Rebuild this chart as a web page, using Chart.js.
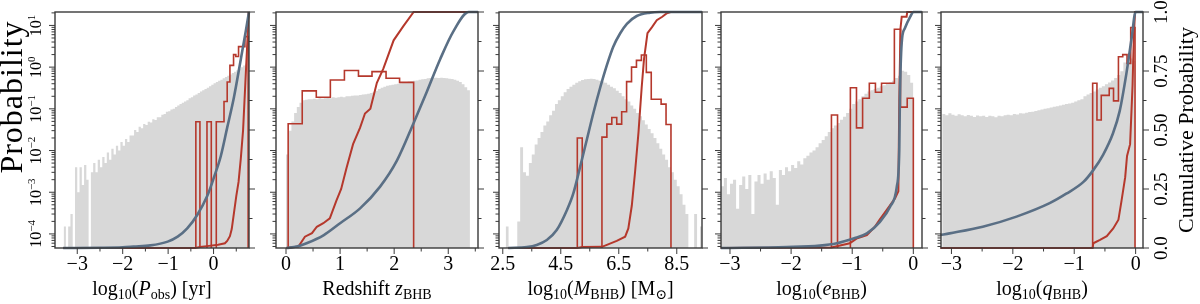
<!DOCTYPE html>
<html>
<head>
<meta charset="utf-8">
<script src="https://cdn.jsdelivr.net/npm/chart.js@4.4.1/dist/chart.umd.min.js"></script>
<style>
  html, body { margin: 0; padding: 0; background: #fff; }
  #wrap { position: relative; width: 1200px; height: 304px; overflow: hidden; font-family: 'Liberation Serif', 'DejaVu Serif', serif; color: #000; }
  canvas { position: absolute; top: 0; }
  .xt { position: absolute; top: 276px; font-size: 20px; line-height: 24px; text-align: center; white-space: nowrap; }
  .xt sub { font-size: 0.7em; vertical-align: -0.32em; line-height: 0; }
  .yt { position: absolute; white-space: nowrap; text-align: center; transform: rotate(-90deg); }
</style>
</head>
<body>
<div id="wrap">
  <canvas id="c1"></canvas>
  <canvas id="c2"></canvas>
  <canvas id="c3"></canvas>
  <canvas id="c4"></canvas>
  <canvas id="c5"></canvas>
  <div class="xt" style="left:55px;width:194px">log<sub>10</sub>(<i>P</i><sub>obs</sub>) [yr]</div>
  <div class="xt" style="left:276px;width:202px">Redshift <i>z</i><sub>BHB</sub></div>
  <div class="xt" style="left:499px;width:203px">log<sub>10</sub>(<i>M</i><sub>BHB</sub>) [M<sub>⊙</sub>]</div>
  <div class="xt" style="left:721px;width:201px">log<sub>10</sub>(<i>e</i><sub>BHB</sub>)</div>
  <div class="xt" style="left:941px;width:202px">log<sub>10</sub>(<i>q</i><sub>BHB</sub>)</div>
  <div class="yt" style="left:-109px;top:81px;width:240px;height:32px;line-height:32px;font-size:32px;letter-spacing:1px;">Probability</div>
  <div class="yt" style="left:1066px;top:117px;width:240px;height:26px;line-height:26px;font-size:22px;">Cumulative Probability</div>
</div>
<script>
// valeurs vides -> sous l'axe log
const FLOOR = 1e-7;

// axes communs
const logTicks = [1e-4, 1e-3, 1e-2, 1e-1, 1, 10];
const logTickExp = ['−4', '−3', '−2', '−1', '0', '1'];
const cumTicks = [0, 0.25, 0.5, 0.75, 1];
const cumTickLabels = ['0.0', '0.25', '0.50', '0.75', '1.0'];
const cumMinor = [0.125, 0.375, 0.625, 0.875];

// ---- panneau 1 : log10(P_obs) ----
const p1GreyStart = -3.3, p1GreyWidth = 0.05;
const p1Grey = [
  1.5e-4, 0, 1.5e-4, 3e-4, 0, 4e-3, 1e-3, 4e-3, 1.5e-3, 4.5e-3,
  2e-3, 0, 3e-3, 5e-3, 3e-3, 6e-3, 4e-3, 7e-3, 5e-3, 9e-3,
  6e-3, 1.1e-2, 8e-3, 1.3e-2, 1.0e-2, 1.6e-2, 1.3e-2, 1.9e-2, 1.6e-2, 2.3e-2,
  2.3e-2, 3.1e-2, 2.8e-2, 3.7e-2, 3.4e-2, 4.3e-2, 4.1e-2, 4.9e-2, 4.7e-2, 5.6e-2,
  5.4e-2, 6.3e-2, 6.3e-2, 7.2e-2, 7.5e-2, 8.5e-2, 8.8e-2, 9.6e-2, 0.1, 0.11,
  0.12, 0.13, 0.14, 0.15, 0.16, 0.18, 0.19, 0.21, 0.22, 0.24,
  0.26, 0.28, 0.3, 0.32, 0.35, 0.38, 0.41, 0.44, 0.47, 0.5,
  0.54, 0.58, 0.62, 0.67, 0.72, 0.78, 0.84, 0.92, 1.0, 1.1,
  1.2
];
const p1RedEdges = [-0.39, -0.30, -0.145, -0.05, 0.06, 0.23, 0.30, 0.36, 0.44, 0.49, 0.55, 0.69, 0.76];
const p1RedVals = [0.049, 0, 0.049, 0, 0.049, 0.15, 0.44, 1.1, 2.0, 1.8, 3.1, 5.4];
const p1RedCumX = [-3.31, -0.40, -0.30, -0.10, 0.10, 0.25, 0.30, 0.36, 0.40, 0.45, 0.50, 0.55, 0.60, 0.65, 0.70, 0.74, 0.77];
const p1RedCumY = [0, 0, 0.004, 0.009, 0.014, 0.02, 0.03, 0.05, 0.08, 0.15, 0.22, 0.28, 0.38, 0.50, 0.70, 0.86, 1.0];
const p1BlueCumX = [-3.31, -2.5, -2.0, -1.76, -1.39, -1.01, -0.79, -0.58, -0.36, -0.14, 0.01, 0.16, 0.30, 0.45, 0.60, 0.71, 0.78];
const p1BlueCumY = [0, 0.001, 0.003, 0.006, 0.011, 0.027, 0.048, 0.083, 0.14, 0.22, 0.30, 0.39, 0.51, 0.64, 0.80, 0.92, 1.0];
const p1XTicks = [-3, -2, -1, 0];
const p1XTickLabels = ['−3', '−2', '−1', '0'];
const p1XMinor = [-2.5, -1.5, -0.5, 0.5];

// ---- panneau 2 : redshift ----
const p2GreyStart = 0, p2GreyWidth = 0.05;
const p2Grey = [
  0.008, 0.03, 0.05, 0.08, 0.11, 0.14, 0.16, 0.165, 0.17, 0.17,
  0.175, 0.17, 0.18, 0.175, 0.18, 0.185, 0.18, 0.19, 0.185, 0.19,
  0.195, 0.19, 0.2, 0.2, 0.205, 0.21, 0.21, 0.215, 0.22, 0.225,
  0.23, 0.24, 0.25, 0.27, 0.3, 0.32, 0.34, 0.36, 0.37, 0.38,
  0.39, 0.4, 0.41, 0.42, 0.44, 0.45, 0.46, 0.47, 0.48, 0.5,
  0.51, 0.52, 0.54, 0.55, 0.56, 0.56, 0.55, 0.56, 0.55, 0.54,
  0.53, 0.52, 0.5, 0.47, 0.44, 0.39, 0.33, 0.28
];
const p2RedEdges = [0.04, 0.30, 0.56, 0.82, 1.08, 1.34, 1.59, 1.85, 2.10, 2.36];
const p2RedVals = [0.044, 0.27, 0.19, 0.49, 0.83, 0.61, 0.78, 0.54, 0.43];
const p2RedCumX = [0.01, 0.23, 0.35, 0.48, 0.57, 0.69, 0.81, 0.93, 1.02, 1.12, 1.24, 1.37, 1.46, 1.56, 1.68, 1.80, 1.99, 2.17, 2.36, 3.55];
const p2RedCumY = [0, 0.006, 0.048, 0.063, 0.09, 0.105, 0.126, 0.20, 0.25, 0.34, 0.44, 0.51, 0.57, 0.59, 0.70, 0.76, 0.88, 0.94, 1.0, 1.0];
const p2BlueCumX = [0.01, 0.2, 0.38, 0.7, 1.0, 1.37, 1.74, 2.05, 2.36, 2.6, 2.85, 3.10, 3.38, 3.55];
const p2BlueCumY = [0, 0.006, 0.02, 0.055, 0.105, 0.168, 0.26, 0.37, 0.53, 0.66, 0.80, 0.92, 1.0, 1.0];
const p2XTicks = [0, 1, 2, 3];
const p2XTickLabels = ['0', '1', '2', '3'];
const p2XMinor = [0.5, 1.5, 2.5, 3.5];

// ---- panneau 3 : log10(M_BHB) ----
const p3GreyStart = 2.6, p3GreyWidth = 0.1;
const p3Grey = [
  1.5e-4, 0, 0, 0, 2e-4, 1.2e-2, 3e-3, 2.5e-3, 5e-3, 8e-3,
  1.4e-2, 2e-2, 2.8e-2, 4e-2, 5e-2, 7e-2, 9e-2, 0.13, 0.16, 0.2,
  0.25, 0.3, 0.34, 0.38, 0.42, 0.46, 0.49, 0.51, 0.52, 0.53,
  0.52, 0.5, 0.47, 0.45, 0.42, 0.38, 0.34, 0.31, 0.27, 0.24,
  0.2, 0.17, 0.15, 0.12, 0.1, 0.08, 0.066, 0.053, 0.042, 0.033,
  0.026, 0.02, 0.015, 0.011, 8e-3, 6e-3, 4e-3, 3e-3, 2e-3, 1.4e-3,
  9e-4, 5e-4, 3e-4, 0, 0, 3e-4, 0, 1.5e-4
];
const p3RedEdges = [5.07, 5.24, 5.92, 6.09, 6.26, 6.43, 6.60, 6.77, 6.94, 7.11, 7.28, 7.45, 7.62, 7.79, 7.96, 8.13, 8.30];
const p3RedVals = [0.02, 0, 0.021, 0.043, 0.062, 0.043, 0.085, 0.45, 1.0, 1.45, 1.95, 0.75, 0.17, 0.17, 0.13, 0.042];
const p3RedCumX = [2.69, 5.07, 5.24, 5.92, 6.09, 6.43, 6.72, 6.83, 6.95, 7.06, 7.18, 7.29, 7.37, 7.49, 7.64, 7.81, 8.0, 8.16, 8.29, 9.37];
const p3RedCumY = [0, 0, 0.004, 0.005, 0.013, 0.03, 0.048, 0.083, 0.18, 0.32, 0.49, 0.68, 0.80, 0.91, 0.935, 0.965, 0.98, 0.995, 1.0, 1.0];
const p3BlueCumX = [2.69, 3.33, 3.67, 4.02, 4.36, 4.71, 4.93, 5.17, 5.40, 5.62, 5.86, 6.09, 6.31, 6.55, 6.78, 7.12, 7.58, 7.92, 9.37];
const p3BlueCumY = [0, 0.004, 0.013, 0.034, 0.076, 0.16, 0.23, 0.345, 0.46, 0.57, 0.68, 0.775, 0.853, 0.91, 0.95, 0.983, 0.997, 1.0, 1.0];
const p3XTicks = [2.5, 4.5, 6.5, 8.5];
const p3XTickLabels = ['2.5', '4.5', '6.5', '8.5'];
const p3XMinor = [3.5, 5.5, 7.5];

// ---- panneau 4 : log10(e_BHB) ----
const p4GreyStart = -3.15, p4GreyWidth = 0.05;
const p4Grey = [
  1.4e-3, 2.2e-3, 9e-4, 1.6e-3, 2.0e-3, 4e-4, 1.5e-3, 2.4e-3, 1.2e-3, 2.6e-3,
  3e-4, 1.8e-3, 2.6e-3, 1.6e-3, 2.8e-3, 2.0e-3, 3.2e-3, 2.2e-3, 5e-4, 3.4e-3,
  2.6e-3, 4.0e-3, 3.2e-3, 4.5e-3, 3.8e-3, 5.5e-3, 4.6e-3, 6.5e-3, 7.5e-3, 9e-3,
  1.0e-2, 1.2e-2, 1.5e-2, 1.8e-2, 2.2e-2, 2.8e-2, 3.4e-2, 4.0e-2, 4.6e-2, 5.5e-2,
  6.5e-2, 8e-2, 0.1, 0.13, 0.15, 0.17, 0.2, 0.23, 0.26, 0.28,
  0.3, 0.32, 0.35, 0.37, 0.4, 0.43, 0.47, 0.55, 0.62, 0.82,
  0.78, 0.65, 0.42
];
const p4RedEdges = [-1.34, -1.24, -1.03, -0.93, -0.83, -0.72, -0.62, -0.52, -0.31, -0.21, -0.10, 0.0];
const p4RedVals = [0.071, 0, 0.32, 0.035, 0.18, 0.41, 0.25, 0.41, 8.1, 0.11, 0.18];
const p4RedCumX = [-3.15, -1.34, -1.04, -0.93, -0.76, -0.63, -0.55, -0.44, -0.30, -0.245, -0.23, -0.21, -0.19, -0.11, -0.10, 0.14];
const p4RedCumY = [0, 0.002, 0.02, 0.04, 0.055, 0.09, 0.12, 0.16, 0.21, 0.24, 0.62, 0.93, 0.98, 0.98, 1.0, 1.0];
const p4BlueCumX = [-3.15, -2.07, -1.53, -1.25, -0.98, -0.76, -0.55, -0.38, -0.27, -0.23, -0.22, -0.19, -0.14, -0.05, 0.0, 0.14];
const p4BlueCumY = [0, 0.004, 0.01, 0.02, 0.04, 0.062, 0.11, 0.175, 0.26, 0.415, 0.63, 0.87, 0.93, 0.98, 1.0, 1.0];
const p4XTicks = [-3, -2, -1, 0];
const p4XTickLabels = ['−3', '−2', '−1', '0'];
const p4XMinor = [-2.5, -1.5, -0.5];

// ---- panneau 5 : log10(q_BHB) ----
const p5GreyStart = -3.15, p5GreyWidth = 0.05;
const p5Grey = [
  0.075, 0.07, 0.078, 0.072, 0.068, 0.074, 0.07, 0.066, 0.071, 0.068,
  0.064, 0.069, 0.066, 0.068, 0.064, 0.068, 0.066, 0.063, 0.068, 0.066,
  0.07, 0.072, 0.07, 0.075, 0.073, 0.078, 0.077, 0.081, 0.084, 0.085,
  0.089, 0.093, 0.097, 0.1, 0.104, 0.108, 0.112, 0.116, 0.12, 0.125,
  0.13, 0.135, 0.14, 0.15, 0.16, 0.17, 0.2, 0.22, 0.24, 0.26,
  0.29, 0.32, 0.35, 0.39, 0.43, 0.48, 0.55, 0.65, 0.8, 1.3,
  1.5, 1.6, 1.4
];
const p5RedEdges = [-0.70, -0.63, -0.56, -0.43, -0.36, -0.28, -0.21, -0.14, -0.08, -0.01];
const p5RedVals = [0.41, 0.054, 0.21, 0.31, 0.155, 1.78, 2.0, 1.23, 8.9];
const p5RedCumX = [-3.18, -0.70, -0.69, -0.58, -0.47, -0.365, -0.28, -0.23, -0.17, -0.14, -0.09, -0.05, -0.03, -0.01, 0.12];
const p5RedCumY = [0, 0, 0.02, 0.034, 0.05, 0.083, 0.12, 0.2, 0.3, 0.39, 0.44, 0.69, 0.89, 1.0, 1.0];
const p5BlueCumX = [-3.18, -3.03, -2.49, -1.94, -1.40, -1.13, -0.85, -0.69, -0.53, -0.37, -0.26, -0.15, -0.065, 0.0, 0.12];
const p5BlueCumY = [0.055, 0.062, 0.09, 0.133, 0.19, 0.23, 0.28, 0.33, 0.395, 0.485, 0.58, 0.74, 0.89, 1.0, 1.0];
const p5XTicks = [-3, -2, -1, 0];
const p5XTickLabels = ['−3', '−2', '−1', '0'];
const p5XMinor = [-2.5, -1.5, -0.5];

// couleurs
const GREY = '#d8d8d8';
const RED = '#b5382c';
const BLUE = '#5a6f85';
const FRAME = '#3a3a3a';
const SERIF = "'Liberation Serif', 'DejaVu Serif', serif";

// position des panneaux (pixels) et bornes des axes
const panels = [
  { id: 'c1', left: 55, right: 249, xMin: -3.49, xMax: 0.78, grey: [p1GreyStart, p1GreyWidth, p1Grey], red: [p1RedEdges, p1RedVals], redCum: [p1RedCumX, p1RedCumY], blueCum: [p1BlueCumX, p1BlueCumY], ticks: [p1XTicks, p1XTickLabels, p1XMinor], leftLabels: true },
  { id: 'c2', left: 276, right: 478, xMin: -0.185, xMax: 3.55, grey: [p2GreyStart, p2GreyWidth, p2Grey], red: [p2RedEdges, p2RedVals], redCum: [p2RedCumX, p2RedCumY], blueCum: [p2BlueCumX, p2BlueCumY], ticks: [p2XTicks, p2XTickLabels, p2XMinor] },
  { id: 'c3', left: 499, right: 702, xMin: 2.37, xMax: 9.37, grey: [p3GreyStart, p3GreyWidth, p3Grey], red: [p3RedEdges, p3RedVals], redCum: [p3RedCumX, p3RedCumY], blueCum: [p3BlueCumX, p3BlueCumY], ticks: [p3XTicks, p3XTickLabels, p3XMinor] },
  { id: 'c4', left: 721, right: 922, xMin: -3.147, xMax: 0.142, grey: [p4GreyStart, p4GreyWidth, p4Grey], red: [p4RedEdges, p4RedVals], redCum: [p4RedCumX, p4RedCumY], blueCum: [p4BlueCumX, p4BlueCumY], ticks: [p4XTicks, p4XTickLabels, p4XMinor] },
  { id: 'c5', left: 941, right: 1143, xMin: -3.17, xMax: 0.12, grey: [p5GreyStart, p5GreyWidth, p5Grey], red: [p5RedEdges, p5RedVals], redCum: [p5RedCumX, p5RedCumY], blueCum: [p5BlueCumX, p5BlueCumY], ticks: [p5XTicks, p5XTickLabels, p5XMinor], rightLabels: true }
];
const TOP = 12, BOTTOM = 248, H = 304;
const LOG_MIN = 4.6e-5, LOG_MAX = 21;

// histogramme en escalier : points aux bords gauches + fermeture à droite
function stepPoints(edges, vals) {
  const pts = [{ x: edges[0], y: FLOOR }];
  vals.forEach((v, i) => pts.push({ x: edges[i], y: v > 0 ? v : FLOOR }));
  const last = vals[vals.length - 1];
  pts.push({ x: edges[edges.length - 1], y: last > 0 ? last : FLOOR });
  pts.push({ x: edges[edges.length - 1], y: FLOOR });
  return pts;
}

function greyPoints(start, width, vals) {
  const edges = vals.map((_, i) => start + i * width);
  edges.push(start + vals.length * width);
  return stepPoints(edges, vals);
}

function linePoints(xs, ys) {
  return xs.map((x, i) => ({ x: x, y: ys[i] }));
}

// graduations log mineures
function logMinor() {
  const out = [];
  for (let k = -5; k <= 1; k++) {
    for (let m = 2; m <= 9; m++) {
      const v = m * Math.pow(10, k);
      if (v >= LOG_MIN && v <= LOG_MAX) out.push(v);
    }
  }
  return out;
}

// cadre, graduations et étiquettes pivotées
const decor = {
  id: 'decor',
  afterDraw(chart, args, opts) {
    const { ctx, chartArea: a, scales } = chart;
    ctx.save();
    ctx.strokeStyle = FRAME;
    ctx.lineWidth = 1;
    const seg = (x1, y1, x2, y2) => { ctx.beginPath(); ctx.moveTo(x1, y1); ctx.lineTo(x2, y2); ctx.stroke(); };

    opts.xMajor.forEach(v => { const p = scales.x.getPixelForValue(v); seg(p, a.bottom, p, a.bottom + 6); });
    opts.xMinor.forEach(v => { const p = scales.x.getPixelForValue(v); seg(p, a.bottom, p, a.bottom + 3.5); });

    logTicks.forEach(v => { const p = scales.y.getPixelForValue(v); seg(a.left - 6, p, a.left, p); });
    logMinor().forEach(v => { const p = scales.y.getPixelForValue(v); seg(a.left - 3.5, p, a.left, p); });

    cumTicks.forEach(v => { const p = scales.c.getPixelForValue(v); seg(a.right, p, a.right + 6, p); });
    cumMinor.forEach(v => { const p = scales.c.getPixelForValue(v); seg(a.right, p, a.right + 3.5, p); });

    ctx.lineWidth = 1.4;
    ctx.strokeRect(a.left, a.top, a.right - a.left, a.bottom - a.top);

    ctx.fillStyle = '#000';
    ctx.textBaseline = 'alphabetic';
    if (opts.leftLabels) {
      logTicks.forEach((v, i) => {
        const p = scales.y.getPixelForValue(v);
        ctx.save();
        ctx.translate(a.left - 14, p);
        ctx.rotate(-Math.PI / 2);
        ctx.font = '16px ' + SERIF;
        const w1 = ctx.measureText('10').width;
        ctx.font = '11px ' + SERIF;
        const w2 = ctx.measureText(logTickExp[i]).width;
        const x0 = -(w1 + w2) / 2;
        ctx.font = '16px ' + SERIF;
        ctx.fillText('10', x0, 0);
        ctx.font = '11px ' + SERIF;
        ctx.fillText(logTickExp[i], x0 + w1, -6);
        ctx.restore();
      });
    }
    if (opts.rightLabels) {
      ctx.font = '19px ' + SERIF;
      ctx.textAlign = 'center';
      cumTicks.forEach((v, i) => {
        const p = scales.c.getPixelForValue(v);
        ctx.save();
        ctx.translate(a.right + 24, p);
        ctx.rotate(-Math.PI / 2);
        ctx.fillText(cumTickLabels[i], 0, 0);
        ctx.restore();
      });
    }
    ctx.restore();
  }
};

panels.forEach(pn => {
  const padL = pn.leftLabels ? pn.left : 22;
  const padR = pn.rightLabels ? 1200 - pn.right : 22;
  const canvas = document.getElementById(pn.id);
  canvas.width = padL + (pn.right - pn.left) + padR;
  canvas.height = H;
  canvas.style.left = (pn.left - padL) + 'px';
  canvas.style.width = canvas.width + 'px';
  canvas.style.height = H + 'px';

  const [xTicks, xLabels, xMinor] = pn.ticks;

  new Chart(canvas, {
    type: 'line',
    data: {
      datasets: [
        { data: linePoints(pn.blueCum[0], pn.blueCum[1]), yAxisID: 'c', borderColor: BLUE, borderWidth: 2.6, cubicInterpolationMode: 'monotone', clip: 4 },
        { data: linePoints(pn.redCum[0], pn.redCum[1]), yAxisID: 'c', borderColor: RED, borderWidth: 2.0, tension: 0, clip: 4 },
        { data: stepPoints(pn.red[0], pn.red[1]), yAxisID: 'y', borderColor: RED, borderWidth: 1.6, stepped: true },
        { data: greyPoints(pn.grey[0], pn.grey[1], pn.grey[2]), yAxisID: 'y', borderWidth: 0, borderColor: 'rgba(0,0,0,0)', backgroundColor: GREY, stepped: true, fill: 'start' }
      ]
    },
    options: {
      responsive: false,
      animation: false,
      layout: { padding: { left: padL, right: padR, top: TOP, bottom: 0 } },
      elements: { point: { radius: 0 } },
      plugins: {
        legend: { display: false },
        tooltip: { enabled: false },
        decor: { xMajor: xTicks, xMinor: xMinor, leftLabels: !!pn.leftLabels, rightLabels: !!pn.rightLabels }
      },
      scales: {
        x: {
          type: 'linear', position: 'bottom', min: pn.xMin, max: pn.xMax,
          afterFit: s => { s.height = H - BOTTOM; },
          afterBuildTicks: s => { s.ticks = xTicks.map(v => ({ value: v })); },
          grid: { display: false, drawTicks: false },
          border: { display: false },
          ticks: {
            autoSkip: false, maxRotation: 0, minRotation: 0, padding: 5, color: '#000',
            font: { family: SERIF, size: 20 },
            callback: (v, i) => xLabels[i]
          }
        },
        y: { type: 'logarithmic', min: LOG_MIN, max: LOG_MAX, display: false },
        c: { type: 'linear', min: 0, max: 1, display: false }
      }
    },
    plugins: [decor]
  });
});
</script>
</body>
</html>
